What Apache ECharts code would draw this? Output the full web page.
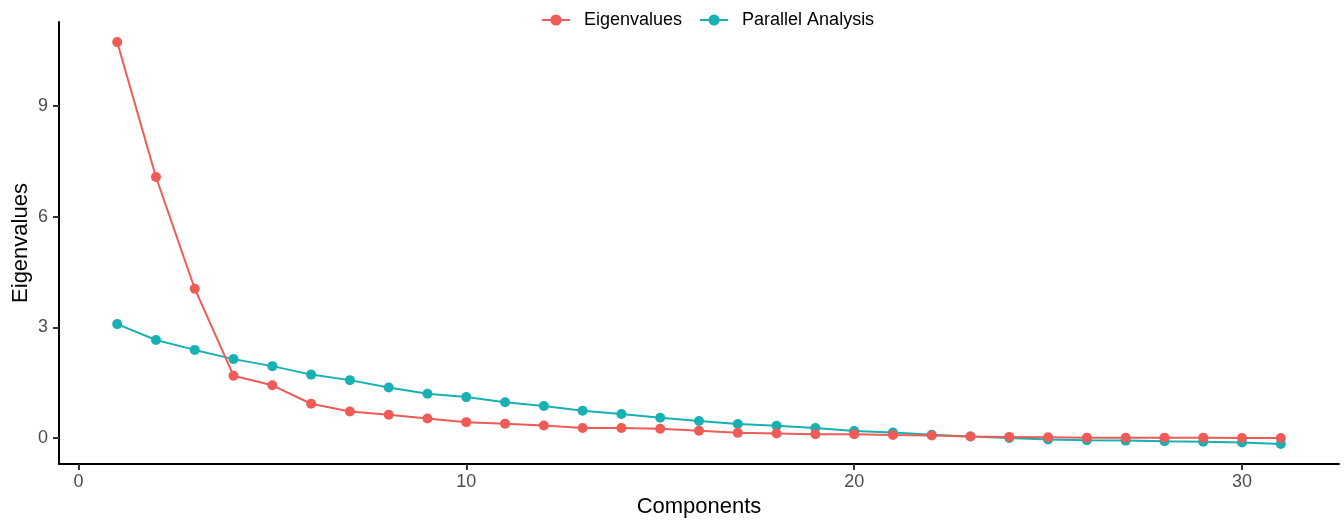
<!DOCTYPE html>
<html>
<head>
<meta charset="utf-8">
<script src="https://cdn.jsdelivr.net/npm/echarts@6/dist/echarts.min.js"></script>
<style>
html,body{margin:0;padding:0;background:#fff;}
#chart{width:1344px;height:521px;}
</style>
</head>
<body>
<div id="chart"></div>
<script>
const components = [1,2,3,4,5,6,7,8,9,10,11,12,13,14,15,16,17,18,19,20,21,22,23,24,25,26,27,28,29,30,31];
const eigenvalues = [10.74,7.08,4.05,1.69,1.43,0.93,0.72,0.63,0.53,0.43,0.39,0.34,0.27,0.27,0.25,0.20,0.14,0.12,0.10,0.10,0.08,0.07,0.04,0.03,0.02,0.01,0.01,0.01,0.01,0.00,0.00];
const parallel = [3.09,2.66,2.39,2.14,1.95,1.72,1.57,1.37,1.20,1.11,0.97,0.87,0.74,0.65,0.55,0.46,0.38,0.33,0.27,0.19,0.15,0.09,0.04,0.00,-0.04,-0.06,-0.07,-0.09,-0.10,-0.12,-0.16];
const xTicks = [0,10,20,30];
const yTicks = [0,3,6,9];

const FONT = 'Liberation Sans, Arial, sans-serif';
const RED = '#EF5B56';
const TEAL = '#17B1B3';

const chart = echarts.init(document.getElementById('chart'), null, {renderer:'canvas'});
chart.setOption({
  backgroundColor:'#ffffff',
  animation:false,
  textStyle:{fontFamily:FONT},
  legend:{
    top:6, left:536,
    itemWidth:28, itemHeight:14, itemGap:17,
    textStyle:{fontFamily:FONT, fontSize:18, color:'#000', padding:[0,0,0,9]},
    data:['Eigenvalues','Parallel Analysis']
  },
  grid:{left:59, right:5, top:22, bottom:57, containLabel:false, outerBoundsMode:'none'},
  xAxis:{
    type:'value', min:-0.5, max:32.5,
    name:'Components', nameLocation:'middle', nameGap:32, nameMoveOverlap:false,
    nameTextStyle:{fontFamily:FONT, fontSize:22, color:'#000'},
    axisLine:{show:true, onZero:false, lineStyle:{color:'#000', width:2}},
    axisTick:{show:true, inside:false, length:6, customValues:xTicks, lineStyle:{color:'#333', width:2}},
    axisLabel:{customValues:xTicks, margin:9, fontSize:18, color:'#4D4D4D', fontFamily:FONT},
    splitLine:{show:false}
  },
  yAxis:{
    type:'value', min:-0.705, max:11.285,
    name:'Eigenvalues', nameLocation:'middle', nameRotate:90, nameGap:27, nameMoveOverlap:false,
    nameTextStyle:{fontFamily:FONT, fontSize:22, color:'#000'},
    axisLine:{show:true, onZero:false, lineStyle:{color:'#000', width:2}},
    axisTick:{show:true, inside:false, length:6, customValues:yTicks, lineStyle:{color:'#333', width:2}},
    axisLabel:{customValues:yTicks, margin:11, fontSize:18, color:'#4D4D4D', fontFamily:FONT},
    splitLine:{show:false}
  },
  series:[
    {
      name:'Eigenvalues', type:'line',
      data:components.map((c,i)=>[c, eigenvalues[i]]),
      symbol:'circle', symbolSize:10,
      lineStyle:{color:RED, width:2},
      itemStyle:{color:RED},
      z:3
    },
    {
      name:'Parallel Analysis', type:'line',
      data:components.map((c,i)=>[c, parallel[i]]),
      symbol:'circle', symbolSize:10,
      lineStyle:{color:TEAL, width:2},
      itemStyle:{color:TEAL},
      z:2
    }
  ]
});
</script>
</body>
</html>
